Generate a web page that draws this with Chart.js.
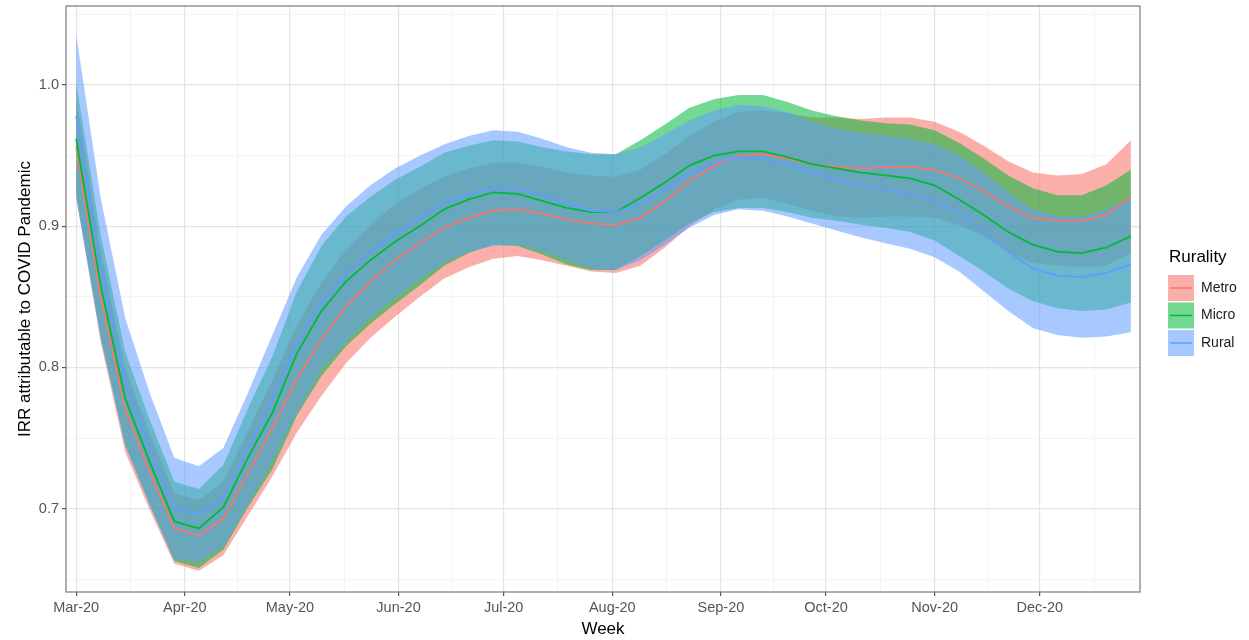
<!DOCTYPE html>
<html>
<head>
<title>IRR attributable to COVID Pandemic by rurality</title>
<script src="https://cdn.jsdelivr.net/npm/chart.js@4.4.0/dist/chart.umd.min.js"></script>
<style>
  body { margin: 0; background: #fff; }
  #wrap { width: 1249px; height: 640px; }
</style>
</head>
<body>
<div id="wrap"><canvas id="irrChart"></canvas></div>
<script>
// days since 1 Mar 2020, one point per week
const weekDay = [0,7,14,21,28,35,42,49,56,63,70,77,84,91,98,105,112,119,126,133,140,147,154,161,168,175,182,189,196,203,210,217,224,231,238,245,252,259,266,273,280,287,294,301];

const monthDay = [0,31,61,92,122,153,184,214,245,275];
const monthLabel = ['Mar-20','Apr-20','May-20','Jun-20','Jul-20','Aug-20','Sep-20','Oct-20','Nov-20','Dec-20'];
const minorDay = [15.5,46,76.5,107,137.5,168.5,199,229.5,260,290.5];

const yMajor = [0.7,0.8,0.9,1.0];
const yMinor = [0.65,0.75,0.85,0.95,1.05];

const metroMean = [.956,.850,.770,.726,.686,.681,.693,.725,.757,.792,.820,.843,.861,.876,.888,.899,.906,.911,.912,.909,.905,.902,.901,.906,.918,.932,.943,.950,.951,.948,.944,.942,.941,.942,.942,.940,.934,.925,.914,.906,.904,.904,.908,.921];
const metroLow  = [.921,.818,.740,.699,.661,.656,.667,.695,.723,.754,.780,.803,.821,.836,.850,.863,.871,.877,.879,.876,.872,.868,.867,.872,.885,.900,.912,.919,.920,.916,.911,.907,.906,.907,.907,.906,.901,.893,.882,.874,.872,.871,.872,.881];
const metroHigh = [.991,.882,.800,.753,.711,.706,.719,.755,.791,.830,.860,.883,.901,.916,.926,.935,.941,.945,.945,.942,.938,.936,.935,.940,.951,.964,.974,.981,.982,.980,.977,.977,.976,.977,.977,.974,.967,.957,.946,.938,.936,.937,.944,.961];

const microMean = [.962,.858,.778,.733,.691,.686,.701,.736,.768,.810,.840,.861,.876,.889,.900,.912,.919,.924,.923,.918,.913,.910,.910,.920,.931,.943,.950,.953,.953,.949,.944,.941,.938,.936,.934,.929,.919,.908,.896,.887,.882,.881,.885,.893];
const microLow  = [.922,.822,.745,.703,.663,.658,.671,.701,.728,.766,.794,.815,.831,.845,.858,.872,.881,.887,.886,.880,.873,.869,.869,.879,.890,.902,.910,.913,.913,.910,.906,.904,.901,.899,.896,.890,.879,.868,.856,.847,.842,.840,.841,.846];
const microHigh = [1.002,.894,.811,.763,.719,.714,.731,.771,.808,.854,.886,.907,.921,.933,.942,.952,.957,.961,.960,.956,.953,.951,.951,.961,.972,.984,.990,.993,.993,.988,.982,.978,.975,.973,.972,.968,.959,.948,.936,.927,.922,.922,.929,.940];

const ruralMean = [.978,.870,.790,.742,.700,.696,.708,.742,.778,.816,.846,.866,.882,.895,.906,.916,.923,.927,.927,.922,.916,.911,.910,.916,.926,.937,.945,.949,.948,.944,.938,.933,.929,.926,.923,.918,.909,.896,.882,.870,.865,.864,.867,.873];
const ruralLow  = [.920,.820,.745,.702,.664,.662,.673,.702,.733,.768,.798,.818,.835,.849,.862,.874,.882,.886,.887,.882,.876,.870,.869,.876,.887,.899,.908,.912,.911,.907,.902,.897,.892,.888,.884,.878,.868,.854,.840,.828,.823,.821,.822,.825];
const ruralHigh = [1.036,.920,.835,.782,.736,.730,.743,.782,.823,.864,.894,.914,.929,.941,.950,.958,.964,.968,.967,.962,.956,.952,.951,.956,.965,.975,.982,.986,.985,.981,.974,.969,.966,.964,.962,.958,.950,.938,.924,.912,.907,.907,.912,.921];

const groups = [
  { name: 'Metro', line: '#F8766D', fill: 'rgba(248,118,109,0.58)', mean: metroMean, low: metroLow, high: metroHigh, order: 30 },
  { name: 'Micro', line: '#00BA38', fill: 'rgba(0,186,56,0.55)',    mean: microMean, low: microLow, high: microHigh, order: 20 },
  { name: 'Rural', line: '#619CFF', fill: 'rgba(97,156,255,0.55)',  mean: ruralMean, low: ruralLow, high: ruralHigh, order: 10 }
];

function pts(arr) { return weekDay.map((d, i) => ({ x: d, y: arr[i] })); }

const datasets = [];
groups.forEach(g => {
  datasets.push({ label: g.name + ' upper', data: pts(g.high), fill: '+1', backgroundColor: g.fill,
    borderWidth: 0, pointRadius: 0, tension: 0, order: g.order });
  datasets.push({ label: g.name + ' lower', data: pts(g.low), fill: false,
    borderWidth: 0, pointRadius: 0, tension: 0, order: g.order + 1 });
});
groups.forEach((g, k) => {
  datasets.push({ label: g.name, data: pts(g.mean), fill: false, borderColor: g.line,
    borderWidth: 1.8, pointRadius: 0, tension: 0, order: 3 - k });
});

const FONT = "'Liberation Sans', Arial, sans-serif";
const isMajorX = v => monthDay.includes(v);
const isMajorY = v => yMajor.some(m => Math.abs(m - v) < 1e-9);

const panelAndLegend = {
  id: 'panelAndLegend',
  afterDraw(chart) {
    const ctx = chart.ctx, a = chart.chartArea;
    ctx.save();
    ctx.strokeStyle = '#7a7a7a';
    ctx.lineWidth = 1.2;
    ctx.strokeRect(a.left, a.top, a.right - a.left, a.bottom - a.top);

    // legend
    ctx.fillStyle = '#000';
    ctx.font = '17px ' + FONT;
    ctx.textBaseline = 'alphabetic';
    ctx.fillText('Rurality', 1169, 262);
    groups.forEach((g, i) => {
      const y = 275 + i * 27.5;
      ctx.fillStyle = '#fff';
      ctx.fillRect(1168, y, 26, 26);
      ctx.fillStyle = g.fill;
      ctx.fillRect(1168, y, 26, 26);
      ctx.strokeStyle = g.line;
      ctx.lineWidth = 1.5;
      ctx.beginPath();
      ctx.moveTo(1170, y + 13);
      ctx.lineTo(1192, y + 13);
      ctx.stroke();
      ctx.fillStyle = '#1a1a1a';
      ctx.font = '14px ' + FONT;
      ctx.textBaseline = 'middle';
      ctx.fillText(g.name, 1201, y + 13);
    });
    ctx.restore();
  }
};

new Chart(document.getElementById('irrChart'), {
  type: 'line',
  data: { datasets: datasets },
  plugins: [panelAndLegend],
  options: {
    responsive: true,
    maintainAspectRatio: false,
    animation: false,
    layout: { padding: { left: 0, right: 109, top: 6, bottom: 0 } },
    plugins: { legend: { display: false }, tooltip: { enabled: false } },
    scales: {
      x: {
        type: 'linear',
        min: -2.9, max: 303.6,
        afterBuildTicks: s => { s.ticks = monthDay.concat(minorDay).sort((p, q) => p - q).map(v => ({ value: v })); },
        afterFit: s => { s.height = 48; s.paddingLeft = 0; s.paddingRight = 0; },
        ticks: {
          autoSkip: false, maxRotation: 0, color: '#555', padding: 3,
          font: { family: FONT, size: 14.5 },
          callback: v => isMajorX(v) ? monthLabel[monthDay.indexOf(v)] : ''
        },
        grid: {
          color: c => isMajorX(c.tick.value) ? '#e4e4e4' : '#f1f1f1',
          lineWidth: c => isMajorX(c.tick.value) ? 1.2 : 0.8,
          tickColor: c => isMajorX(c.tick.value) ? '#555' : 'rgba(0,0,0,0)',
          tickLength: 4
        },
        border: { display: false },
        title: { display: true, text: 'Week', color: '#000', padding: { top: 0, bottom: 0 },
          font: { family: FONT, size: 17 } }
      },
      y: {
        min: 0.641, max: 1.056,
        afterBuildTicks: s => { s.ticks = yMajor.concat(yMinor).sort((p, q) => p - q).map(v => ({ value: v })); },
        afterFit: s => { s.width = 66; s.paddingTop = 0; s.paddingBottom = 0; },
        ticks: {
          color: '#555', padding: 3,
          font: { family: FONT, size: 14.5 },
          callback: v => isMajorY(v) ? v.toFixed(1) : ''
        },
        grid: {
          color: c => isMajorY(c.tick.value) ? '#e4e4e4' : '#f1f1f1',
          lineWidth: c => isMajorY(c.tick.value) ? 1.2 : 0.8,
          tickColor: c => isMajorY(c.tick.value) ? '#555' : 'rgba(0,0,0,0)',
          tickLength: 4
        },
        border: { display: false },
        title: { display: true, text: 'IRR attributable to COVID Pandemic', color: '#000',
          padding: { top: 15, bottom: 0 }, font: { family: FONT, size: 17 } }
      }
    }
  }
});
</script>
</body>
</html>
